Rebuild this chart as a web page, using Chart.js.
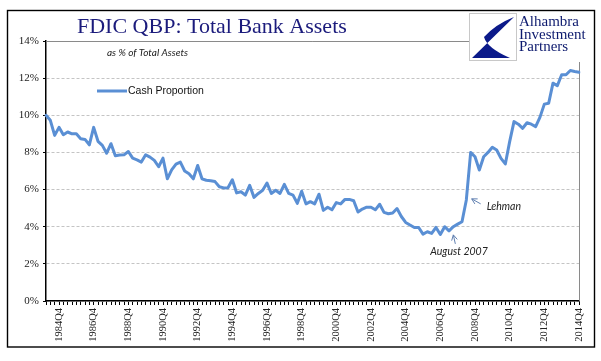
<!DOCTYPE html>
<html>
<head>
<meta charset="utf-8">
<script src="https://cdn.jsdelivr.net/npm/chart.js@4"></script>
<style>
  html, body { margin: 0; padding: 0; background: #fff; }
  #wrap { width: 601px; height: 361px; }
</style>
</head>
<body>
<div id="wrap"><canvas id="bankChart" width="601" height="361"></canvas></div>
<script>
// quarters 1984Q1 .. 2014Q4
const firstYear = 1984;
const lastYear = 2014;
const quarters = [];
for (let y = firstYear; y <= lastYear; y++) {
  for (let q = 1; q <= 4; q++) quarters.push(y + 'Q' + q);
}

// cash as % of total bank assets
const cashShare = [
  10.0, 9.73, 8.92, 9.35, 8.95, 9.1, 9.0, 9.0, 8.74, 8.7,
  8.41, 9.35, 8.6, 8.38, 7.96, 8.47, 7.82, 7.86, 7.87, 8.05,
  7.69, 7.6, 7.48, 7.87, 7.75, 7.57, 7.23, 7.69, 6.58, 7.06,
  7.37, 7.48, 7.0, 6.85, 6.58, 7.3, 6.58, 6.5, 6.47, 6.43,
  6.15, 6.09, 6.1, 6.53, 5.82, 5.88, 5.7, 6.23, 5.58, 5.79,
  5.96, 6.35, 5.79, 5.96, 5.79, 6.28, 5.79, 5.7, 5.26, 5.91,
  5.23, 5.35, 5.23, 5.75, 4.88, 5.05, 4.91, 5.3, 5.23, 5.47,
  5.47, 5.4, 4.79, 4.95, 5.05, 5.05, 4.91, 5.21, 4.77, 4.7,
  4.74, 4.98, 4.55, 4.23, 4.09, 3.96, 3.96, 3.6, 3.73, 3.64,
  3.96, 3.58, 4.0, 3.78, 4.0, 4.14, 4.27, 5.44, 8.0, 7.77,
  7.05, 7.77, 8.0, 8.28, 8.13, 7.68, 7.38, 8.58, 9.66, 9.52,
  9.3, 9.6, 9.52, 9.39, 9.9, 10.6, 10.65, 11.73, 11.59, 12.18,
  12.18, 12.41, 12.36, 12.32
];

const seriesName = 'Cash Proportion';
const yMin = 0, yMax = 14, yStep = 2;

// notes: [text, quarter the arrow points at, value at arrow head]
const notes = [
  { text: 'Lehman', at: '2008Q3', value: 5.5, dx: 1, tail: [9, 5], textDx: 15, textDy: 8 },
  { text: 'August 2007', at: '2007Q3', value: 3.56, dx: 0, tail: [2, 9], textDx: -23, textDy: 17 }
];

const lineColor = '#5a8fd4';
const navy = '#1b1b7c';
const serif = '"Liberation Serif", "Times New Roman", serif';

function arrow(ctx, hx, hy, tx, ty) {
  const a = Math.atan2(hy - ty, hx - tx);
  ctx.beginPath();
  ctx.moveTo(tx, ty);
  ctx.lineTo(hx, hy);
  ctx.moveTo(hx - 6 * Math.cos(a - 0.5), hy - 6 * Math.sin(a - 0.5));
  ctx.lineTo(hx, hy);
  ctx.lineTo(hx - 6 * Math.cos(a + 0.5), hy - 6 * Math.sin(a + 0.5));
  ctx.stroke();
}

const decorations = {
  id: 'decorations',
  beforeDatasetsDraw(chart) {
    const { ctx, chartArea: a } = chart;
    ctx.save();
    ctx.strokeStyle = '#8a8a8a';
    ctx.lineWidth = 1;
    ctx.beginPath();
    ctx.moveTo(a.left, a.top + 0.5);
    ctx.lineTo(a.right + 0.5, a.top + 0.5);
    ctx.lineTo(a.right + 0.5, a.bottom);
    ctx.stroke();
    ctx.restore();
  },
  afterDraw(chart) {
    const { ctx } = chart;
    const xs = chart.scales.x, ys = chart.scales.y;
    ctx.save();

    // outer frame
    ctx.strokeStyle = '#000';
    ctx.lineWidth = 1.4;
    ctx.strokeRect(7.5, 10.5, 587, 336.5);

    // title + subtitle
    ctx.fillStyle = navy;
    ctx.font = '22px ' + serif;
    ctx.textBaseline = 'alphabetic';
    ctx.textAlign = 'left';
    ctx.fillText('FDIC QBP: Total Bank Assets', 77, 33);

    ctx.fillStyle = '#222';
    ctx.font = 'italic 10px Lato, "Open Sans", sans-serif';
    ctx.fillText('as % of Total Assets', 107, 56);

    // legend
    ctx.strokeStyle = lineColor;
    ctx.lineWidth = 3;
    ctx.beginPath();
    ctx.moveTo(97, 91);
    ctx.lineTo(127, 91);
    ctx.stroke();
    ctx.fillStyle = '#111';
    ctx.font = '10.5px "Liberation Sans", Arial, sans-serif';
    ctx.textBaseline = 'middle';
    ctx.fillText(seriesName, 128, 91);

    // annotations
    ctx.strokeStyle = '#5f7fb0';
    ctx.lineWidth = 1;
    ctx.font = 'italic 10.5px Lato, "Open Sans", sans-serif';
    ctx.fillStyle = '#222';
    notes.forEach(n => {
      const hx = xs.getPixelForValue(quarters.indexOf(n.at)) + n.dx;
      const hy = ys.getPixelForValue(n.value);
      arrow(ctx, hx, hy, hx + n.tail[0], hy + n.tail[1]);
      ctx.fillText(n.text, hx + n.textDx, hy + n.textDy);
    });

    // logo
    ctx.fillStyle = '#fff';
    ctx.fillRect(469, 13, 124, 49);
    ctx.strokeStyle = '#c8c8c8';
    ctx.lineWidth = 1;
    ctx.strokeRect(469.5, 13.5, 47, 47);
    ctx.fillStyle = '#0b1a8a';
    ctx.beginPath();
    ctx.moveTo(514, 17);
    ctx.lineTo(472, 58);
    ctx.lineTo(510, 58);
    ctx.quadraticCurveTo(487, 48, 484, 37);
    ctx.quadraticCurveTo(496, 24, 514, 17);
    ctx.closePath();
    ctx.fill();
    ctx.fillStyle = '#0d1a6e';
    ctx.font = '15px ' + serif;
    ctx.textBaseline = 'alphabetic';
    ctx.fillText('Alhambra', 519, 26);
    ctx.fillText('Investment', 519, 38.5);
    ctx.fillText('Partners', 519, 51);

    ctx.restore();
  }
};

const tickFont = { family: serif, size: 10.5 };

new Chart(document.getElementById('bankChart'), {
  type: 'line',
  data: {
    labels: quarters,
    datasets: [{
      label: seriesName,
      data: cashShare,
      borderColor: lineColor,
      borderWidth: 3,
      pointRadius: 0,
      tension: 0,
      borderJoinStyle: 'round',
      borderCapStyle: 'round',
      fill: false
    }]
  },
  options: {
    responsive: false,
    animation: false,
    layout: { padding: { left: 0, right: 22, top: 41, bottom: 15 } },
    plugins: {
      legend: { display: false },
      tooltip: { enabled: false }
    },
    scales: {
      x: {
        offset: false,
        grid: { drawOnChartArea: false, drawTicks: true, tickLength: 4, tickColor: '#000', tickWidth: 1 },
        border: { display: true, color: '#000', width: 1.5 },
        ticks: {
          autoSkip: false,
          maxRotation: 90,
          minRotation: 90,
          padding: 3,
          color: '#222',
          font: tickFont,
          callback: function (v, i) { return i % 8 === 3 ? this.getLabelForValue(v) : ''; }
        },
        afterFit: s => { s.height = 45; }
      },
      y: {
        min: yMin,
        max: yMax,
        grid: { color: '#c4c4c4', lineWidth: 1, drawTicks: true, tickLength: 3, tickColor: '#000' },
        border: { display: true, color: '#000', width: 1.5, dash: [3, 2] },
        ticks: {
          stepSize: yStep,
          padding: 4,
          color: '#222',
          font: { family: serif, size: 11 },
          callback: v => v + '%'
        },
        afterFit: s => { s.width = 46; }
      }
    }
  },
  plugins: [decorations]
});
</script>
</body>
</html>
